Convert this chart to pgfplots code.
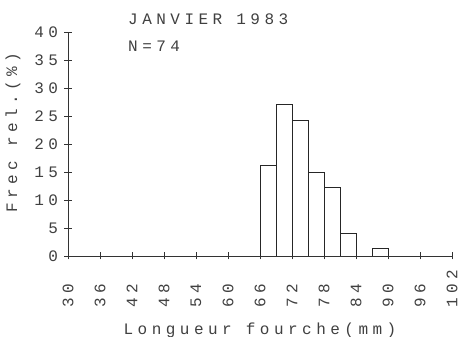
\documentclass[border=0pt]{standalone}
\usepackage{fontspec}
\setmainfont{Liberation Mono}
\newfontfamily\dotfont[LetterSpace=28]{Liberation Mono}
\usepackage{pgfplots}
\pgfplotsset{compat=1.18}
\begin{document}
\begin{tikzpicture}[x=1pt,y=1pt]
\path[use as bounding box] (0,0) rectangle (461,337);
\begin{axis}[at={(68pt,81pt)}, anchor=south west, scale only axis,
  width=384pt, height=224pt,
  xmin=30, xmax=102, ymin=0, ymax=40,
  axis x line=bottom, axis y line=left,
  axis line style={-, black!80, line width=0.8pt},
  xtick={30,36,...,102}, ytick={0,5,...,40},
  tick align=center, major tick length=7pt,
  tick style={black!80, line width=0.8pt},
  /pgf/number format/assume math mode=true,
  ticklabel style={font=\dotfont\fontsize{16}{16}\selectfont, text=black!75},
  xticklabel style={yshift=-52pt, rotate=90, anchor=west},
  yticklabel style={anchor=east, xshift=-3pt},
  xlabel={Longueur fourche(mm)},
  xlabel style={at={(axis description cs:0.5,0)}, anchor=base, yshift=-79pt,
    font=\dotfont\fontsize{16}{16}\selectfont, text=black!75},
  ylabel={Frec rel.(\%)},
  ylabel style={at={(axis description cs:-0.143,0.55)}, anchor=center,
    font=\dotfont\fontsize{16}{16}\selectfont, text=black!75},
]
\addplot[ybar interval, draw=black!85, fill=none, line width=0.8pt]
  coordinates {(66,16.2)(69,27.0)(72,24.3)(75,14.9)(78,12.2)(81,4.05)(84,0)(87,1.35)(90,1.35)};
\end{axis}
\node[anchor=base west, font=\dotfont\fontsize{16}{16}\selectfont, text=black!75, inner sep=0pt] at (128,312) {JANVIER 1983};
\node[anchor=base west, font=\dotfont\fontsize{16}{16}\selectfont, text=black!75, inner sep=0pt] at (128,285) {N=74};
\end{tikzpicture}
\end{document}
